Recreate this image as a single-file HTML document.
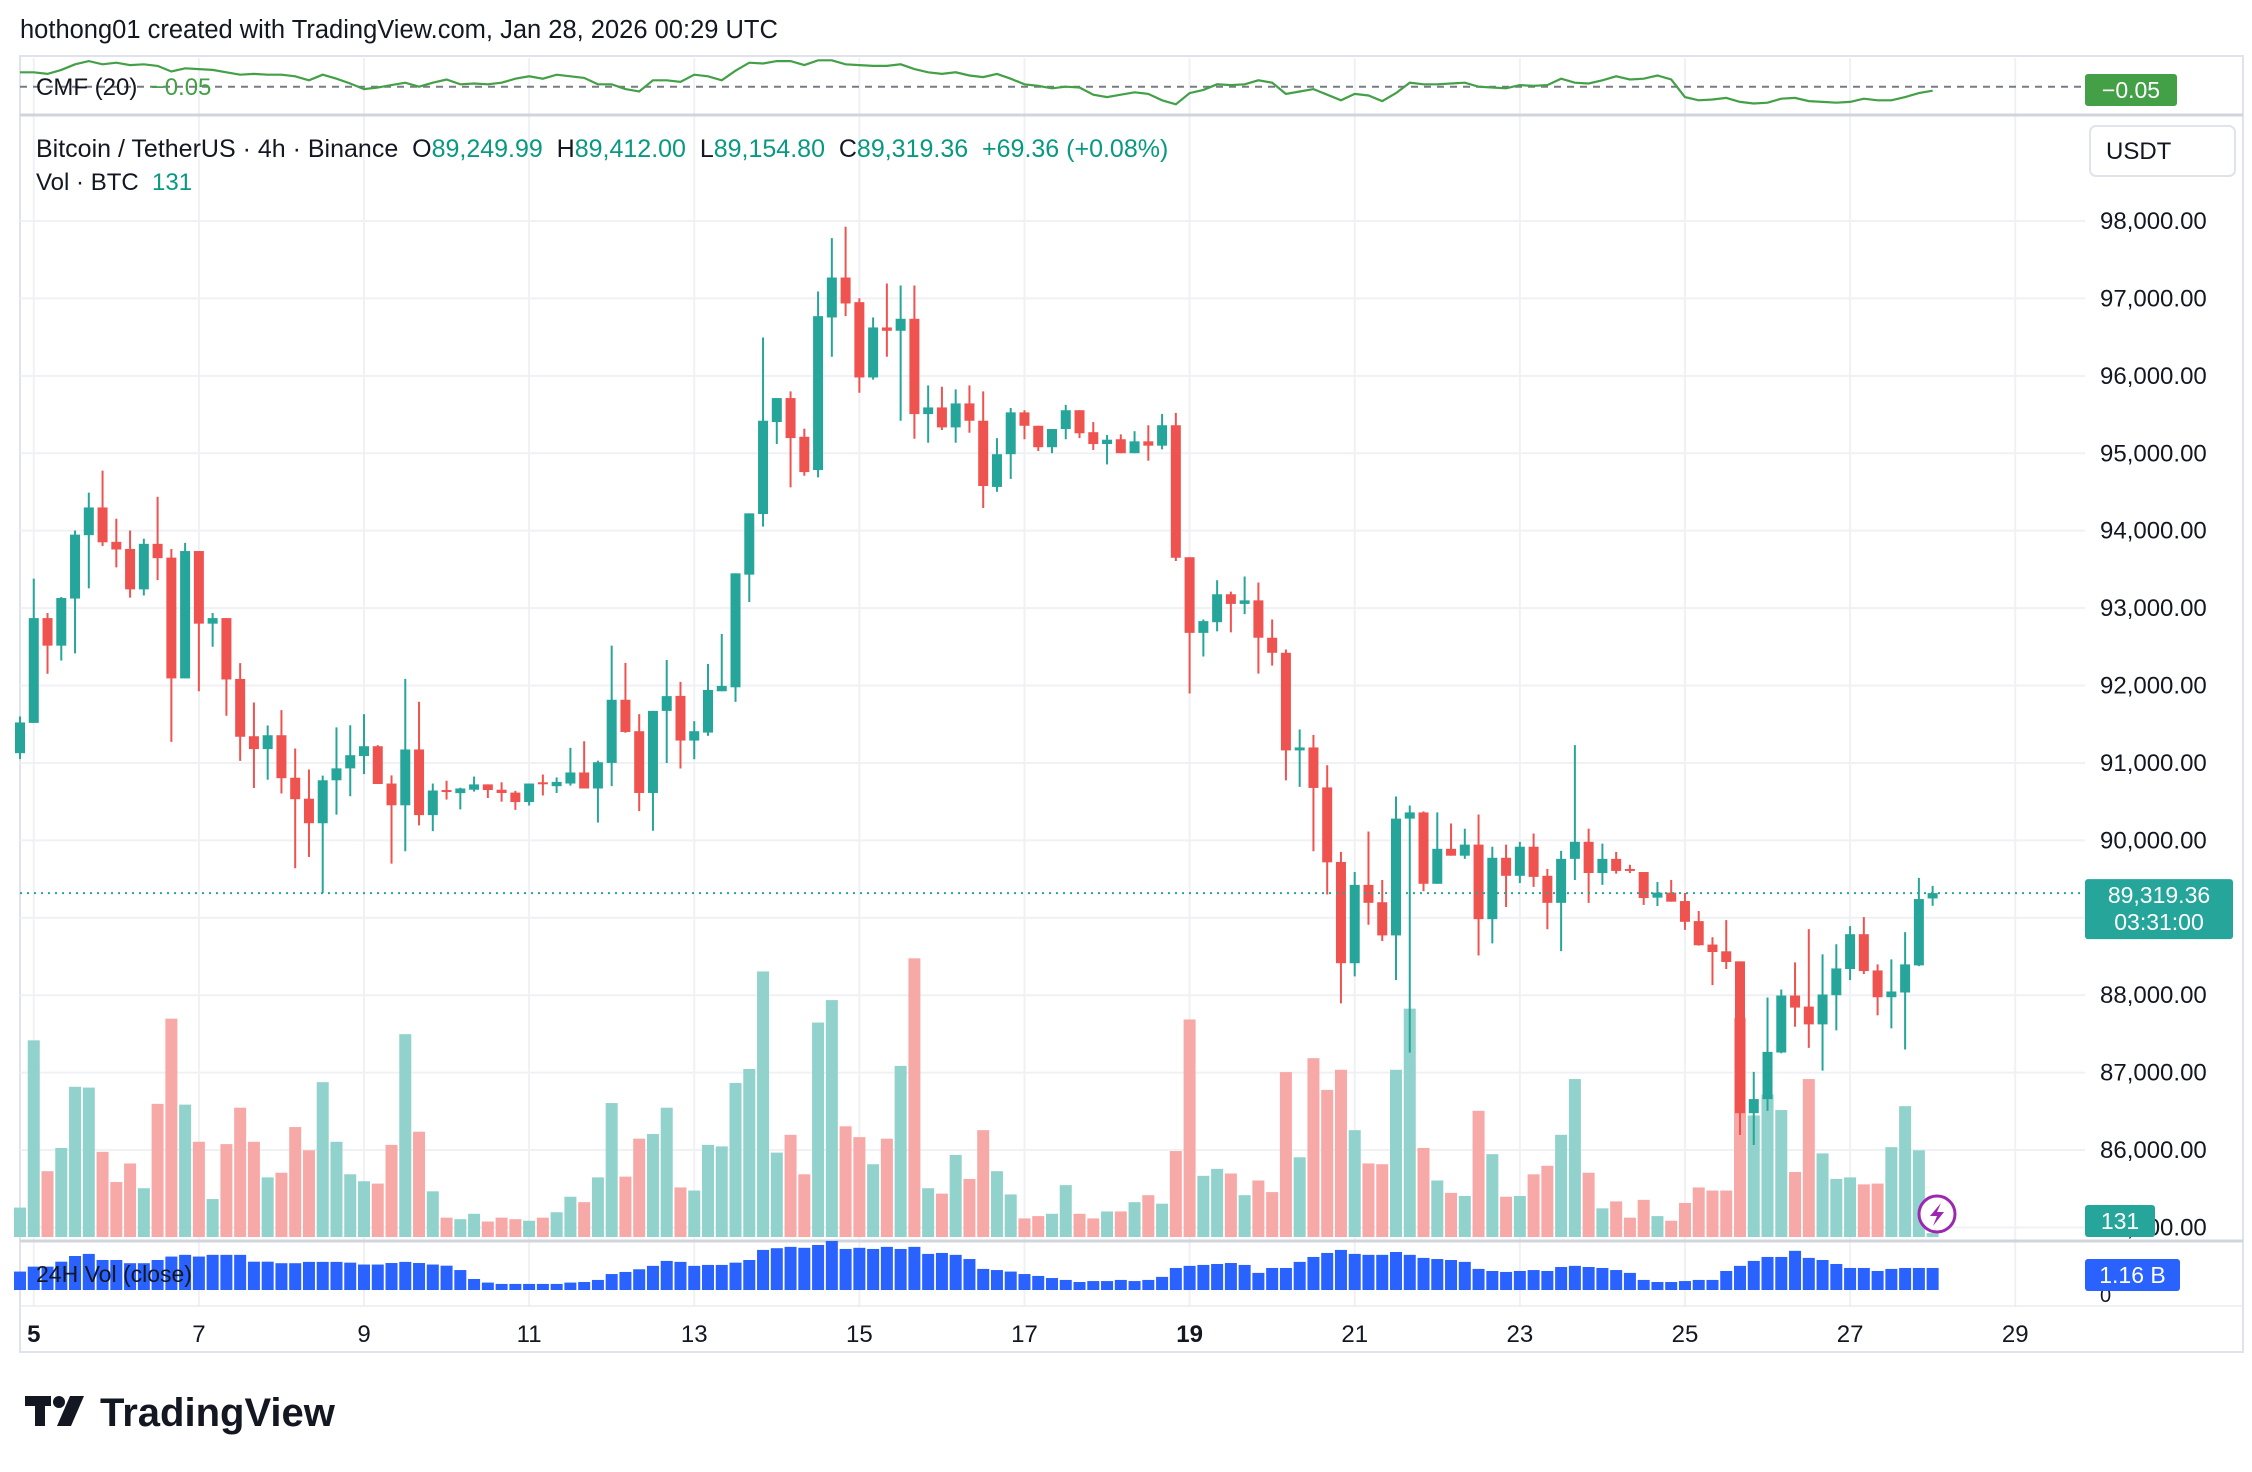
<!DOCTYPE html>
<html><head><meta charset="utf-8"><style>
html,body{margin:0;padding:0;background:#fff;width:2252px;height:1472px;overflow:hidden}
svg{display:block;font-family:"Liberation Sans",sans-serif}
text{white-space:pre}
</style></head><body>
<svg id="chart" width="2252" height="1472" viewBox="0 0 2252 1472" xmlns="http://www.w3.org/2000/svg" xml:space="preserve">
<rect x="0" y="0" width="2252" height="1472" fill="#fff"/>
<text x="20" y="38" font-size="25.5" fill="#131722">hothong01 created with TradingView.com, Jan 28, 2026 00:29 UTC</text>
<rect x="20" y="56" width="2223" height="1296" fill="none" stroke="#e0e3eb" stroke-width="2"/>
<g id="grid"></g>
<line x1="20" y1="115" x2="2243" y2="115" stroke="#d1d4dc" stroke-width="3"/>
<line x1="20" y1="1241" x2="2243" y2="1241" stroke="#d1d4dc" stroke-width="3"/>
<line x1="20" y1="1306" x2="2243" y2="1306" stroke="#e0e3eb" stroke-width="1"/>
<g id="vol"></g>
<g id="candles"></g>
<g id="cmf"></g>
<g id="v24"></g>
<g id="axes"></g>
<text x="36" y="95" font-size="24" fill="#131722">CMF (20)  <tspan fill="#43a047">−0.05</tspan></text>
<text x="36" y="157" font-size="25" fill="#131722">Bitcoin / TetherUS · 4h · Binance  O<tspan fill="#089981">89,249.99</tspan>  H<tspan fill="#089981">89,412.00</tspan>  L<tspan fill="#089981">89,154.80</tspan>  C<tspan fill="#089981">89,319.36  +69.36 (+0.08%)</tspan></text>
<text x="36" y="190" font-size="24" fill="#131722">Vol · BTC  <tspan fill="#089981">131</tspan></text>
<text x="36" y="1282" font-size="23" fill="#131722">24H Vol (close)</text>
<g><rect x="2090" y="126" width="145" height="50" rx="6" fill="#fff" stroke="#e0e3eb" stroke-width="2"/><text x="2106" y="159" font-size="24" fill="#131722">USDT</text></g>
<g><circle cx="1937" cy="1214" r="18" fill="#fff" stroke="#9c27b0" stroke-width="3"/><path d="M1941 1203 L1930 1216 L1937 1216 L1933 1226 L1944 1212 L1937 1212 Z" fill="#9c27b0"/></g>
<g>
<rect x="25" y="1396" width="26" height="10" fill="#131722"/><rect x="35" y="1396" width="10" height="30" fill="#131722"/>
<circle cx="59" cy="1402" r="6" fill="#131722"/><path d="M70 1396 L84 1396 L71 1426 L57 1426 Z" fill="#131722"/>
<text x="100" y="1426" font-size="40" font-weight="bold" fill="#131722">TradingView</text></g>
</svg>
<script>
const opens=[91126,91517,92871,92515,93123,93942,94300,93856,93764,93242,93830,93652,92092,93737,92799,92871,92085,91345,91179,91358,90809,90538,90221,90776,90930,
91089,91216,90734,90453,91174,90326,90650,90610,90654,90723,90654,90617,90495,90750,90700,90734,90877,90670,91000,91816,91410,90612,91672,
91866,91289,91392,91926,91977,93432,94215,95403,95713,95213,94783,96754,97270,96952,95979,96625,96582,96737,95506,95592,95334,95644,95420,
94565,94988,95528,95355,95078,95313,95556,95272,95119,95181,95001,95154,95098,95362,93657,92680,92818,93179,93054,93100,92617,92423,91162,91200,
90684,89721,88413,89425,89201,88772,90281,90361,89439,89891,89802,89945,88982,89775,89542,89918,89542,89193,89761,89981,89578,89761,89631,89591,
89260,89325,89216,88957,88654,88567,88437,86476,86658,87260,87996,87853,87623,88000,88338,88788,88320,87974,88035,88385,89250];
const highs=[91600,93380,92937,93143,94002,94491,94775,94154,94002,93896,94438,93764,93843,93737,92937,92871,92290,91781,91484,91682,91186,90916,90836,91460,91487,
91630,91230,90840,92086,91790,90734,90770,90680,90824,90723,90750,90640,90734,90850,90813,91195,91280,91030,92515,92293,91630,91672,92330,
92047,91539,92279,92666,93449,94224,96496,95713,95799,95317,97090,97778,97925,97003,96754,97193,97167,97167,95876,95859,95825,95876,95799,
95195,95584,95556,95355,95313,95625,95556,95403,95237,95244,95285,95362,95508,95521,93657,92853,93360,93213,93408,93331,92853,92465,91432,91363,
90970,89851,89591,90115,89488,90567,90451,90375,90361,90218,90151,90334,89918,89945,89981,90088,89631,89864,91230,90151,89958,89851,89685,89591,
89463,89489,89320,89087,88749,88970,88437,87009,87970,88074,88424,88853,88528,88658,88892,89009,88398,88463,88814,89515,89412];
const lows=[91050,91517,92151,92323,92415,93255,93800,93526,93136,93163,93361,91272,92092,91926,92501,91609,91027,90677,90783,90605,89640,89785,89320,90333,90570,
90856,90728,89700,89859,90193,90119,90527,90400,90630,90547,90500,90394,90450,90580,90612,90707,90670,90230,90700,91390,90378,90124,91000,
90928,91048,91350,91926,91788,93079,94052,95119,94559,94710,94688,96246,96771,95781,95950,96247,95420,95188,95136,95300,95136,95265,94293,
94502,94669,95181,95029,95001,95181,95195,95043,94856,95001,95001,94904,95050,93609,91897,92375,92700,92687,92922,92153,92257,90774,90691,89860,
89300,87894,88243,88910,88700,88194,87258,89345,89439,89802,89761,88512,88669,89139,89448,89399,88852,88570,89488,89193,89425,89569,89578,89166,
89152,89208,88844,88640,88130,88338,86195,86065,86506,87250,87593,87320,87026,87545,88195,88273,87740,87571,87299,88376,89155];
const closes=[91523,92871,92515,93130,93949,94300,93850,93757,93242,93830,93645,92092,93737,92799,92871,92078,91338,91179,91358,90803,90532,90221,90776,90930,91100,
91216,90728,90453,91174,90326,90644,90640,90670,90723,90650,90612,90495,90734,90734,90755,90877,90670,91009,91816,91400,90612,91672,91863,
91289,91410,91943,91995,93449,94224,95420,95713,95196,94757,96771,97270,96935,95979,96625,96582,96737,95506,95592,95334,95644,95420,94577,
94988,95528,95355,95078,95313,95556,95258,95119,95175,95001,95154,95098,95362,93650,92680,92832,93179,93054,93100,92617,92423,91162,91200,90677,
89716,88413,89425,89193,88772,90281,90361,89439,89891,89802,89945,88982,89775,89542,89918,89528,89193,89761,89981,89578,89761,89605,89605,89255,
89325,89208,88948,88645,88558,88429,86476,86658,87268,87996,87840,87623,88009,88346,88788,88312,87974,88048,88398,89242,89319];
const volumes=[0.38,2.54,0.85,1.15,1.94,1.93,1.10,0.71,0.95,0.63,1.72,2.82,1.71,1.23,0.49,1.20,1.67,1.23,0.77,0.83,1.42,1.12,2.00,1.23,0.81,
0.72,0.69,1.19,2.62,1.36,0.59,0.25,0.23,0.30,0.20,0.25,0.23,0.21,0.25,0.32,0.52,0.45,0.77,1.73,0.78,1.27,1.33,1.67,
0.64,0.60,1.19,1.17,1.99,2.17,3.43,1.09,1.32,0.81,2.77,3.06,1.43,1.29,0.94,1.27,2.21,3.60,0.63,0.56,1.06,0.75,1.38,
0.85,0.55,0.24,0.27,0.30,0.67,0.30,0.24,0.33,0.33,0.45,0.54,0.43,1.11,2.81,0.79,0.88,0.82,0.54,0.73,0.58,2.13,1.03,2.31,
1.90,2.16,1.38,0.95,0.94,2.16,2.95,1.15,0.73,0.57,0.53,1.63,1.07,0.52,0.53,0.81,0.92,1.32,2.04,0.83,0.37,0.46,0.25,0.48,
0.27,0.21,0.44,0.64,0.60,0.60,2.83,1.57,1.84,1.64,0.84,2.04,1.08,0.75,0.77,0.68,0.69,1.16,1.69,1.12,0.05];
const cmfValues=[0.18,0.18,0.16,0.21,0.28,0.32,0.28,0.30,0.27,0.28,0.26,0.19,0.23,0.22,0.21,0.18,0.15,0.16,0.15,0.15,
0.13,0.08,0.15,0.10,0.04,-0.03,-0.01,0.02,0.05,0.00,0.05,0.09,0.03,0.04,0.03,0.05,0.10,0.13,0.10,0.15,
0.13,0.11,0.03,0.03,-0.03,-0.06,0.08,0.08,0.06,0.15,0.13,0.08,0.20,0.30,0.29,0.32,0.32,0.27,0.33,0.33,
0.28,0.27,0.26,0.26,0.28,0.22,0.18,0.16,0.18,0.14,0.12,0.16,0.10,0.03,0.01,-0.02,0.00,-0.01,-0.10,-0.13,
-0.10,-0.07,-0.09,-0.17,-0.22,-0.08,-0.04,0.03,0.02,0.03,0.08,0.05,-0.09,-0.06,-0.03,-0.10,-0.17,-0.09,-0.11,-0.18,
-0.08,0.05,0.03,0.03,0.04,0.05,0.00,-0.01,-0.02,0.02,0.01,0.02,0.10,0.05,0.04,0.08,0.13,0.09,0.10,0.14,
0.09,-0.13,-0.17,-0.16,-0.14,-0.19,-0.21,-0.20,-0.15,-0.14,-0.18,-0.19,-0.20,-0.19,-0.15,-0.17,-0.17,-0.13,-0.08,-0.05];
const vol24hB=[0.97,1.23,1.23,1.49,1.79,1.90,1.58,1.58,1.41,1.41,1.58,1.76,1.85,1.76,1.85,1.85,1.85,1.49,1.49,1.41,
1.41,1.48,1.48,1.48,1.44,1.34,1.34,1.42,1.48,1.42,1.34,1.28,1.05,0.58,0.39,0.32,0.32,0.32,0.32,0.32,
0.39,0.42,0.53,0.84,0.95,1.09,1.27,1.53,1.48,1.27,1.32,1.32,1.44,1.58,2.11,2.20,2.27,2.22,2.37,2.58,
2.16,2.22,2.16,2.27,2.16,2.27,1.90,1.95,1.85,1.63,1.11,1.05,0.97,0.84,0.74,0.63,0.53,0.42,0.47,0.47,
0.53,0.47,0.53,0.69,1.16,1.27,1.32,1.37,1.42,1.32,0.90,1.16,1.16,1.48,1.74,1.95,2.11,1.90,1.85,1.85,
2.00,1.85,1.69,1.63,1.58,1.48,1.11,1.00,0.95,1.00,1.05,1.00,1.21,1.27,1.21,1.16,1.05,0.90,0.53,0.42,
0.42,0.47,0.53,0.53,1.00,1.27,1.53,1.74,1.74,2.06,1.69,1.58,1.37,1.16,1.16,1.00,1.11,1.16,1.16,1.16];
const priceTicks=[98000,97000,96000,95000,94000,93000,92000,91000,90000,89000,88000,87000,86000,85000];
const dayLabels=["5","7","9","11","13","15","17","19","21","23","25","27","29"];
const dayNumbers=[5,7,9,11,13,15,17,19,21,23,25,27,29];
const boldDays=[5,19];

const NS='http://www.w3.org/2000/svg';
const X0=20, STEP=13.76;
const xOf=i=>X0+i*STEP;
const dayX=d=>xOf(1+(d-5)*6);
const yPrice=p=>221+(98000-p)*0.07742;
const yVol=v=>1237-v*77.42;
const yCmf=v=>86.7-v*80;
const yV24=v=>1290-v*19.0;
function mk(tag,attrs,parent){const e=document.createElementNS(NS,tag);for(const k in attrs)e.setAttribute(k,attrs[k]);parent.appendChild(e);return e;}
const grid=document.getElementById('grid');
priceTicks.forEach(p=>{const l=mk('line',{x1:20,x2:2085,y1:yPrice(p),y2:yPrice(p),stroke:'#f0f1f4','stroke-width':2},grid);

});
dayNumbers.forEach(d=>{const l=mk('line',{x1:dayX(d),x2:dayX(d),y1:58,y2:1306,stroke:'#f0f1f4','stroke-width':2},grid);

});

const vg=document.getElementById('vol');
volumes.forEach((v,i)=>{const up=closes[i]>=opens[i];
const r=mk('rect',{x:xOf(i)-6,y:yVol(v),width:12,height:Math.max(1,1237-yVol(v)),fill:up?'#92d2cc':'#f7a9a7'},vg);

});

const cg=document.getElementById('candles');
opens.forEach((o,i)=>{const c=closes[i],up=c>=o,col=up?'#26a69a':'#ef5350',x=xOf(i);
const g=mk('g',{},cg);


mk('line',{x1:x,x2:x,y1:yPrice(highs[i]),y2:yPrice(lows[i]),stroke:col,'stroke-width':2},g);
const t=yPrice(Math.max(o,c)),b=yPrice(Math.min(o,c));
mk('rect',{x:x-5,y:t,width:10,height:Math.max(2,b-t),fill:col},g);});

const last=closes[closes.length-1];
const pl=mk('line',{x1:20,x2:2085,y1:yPrice(last),y2:yPrice(last),stroke:'#26a69a','stroke-width':2,'stroke-dasharray':'2 5'},cg);



const cm=document.getElementById('cmf');
const zl=mk('line',{x1:20,x2:2085,y1:yCmf(0),y2:yCmf(0),stroke:'#787b86','stroke-width':2,'stroke-dasharray':'7 6'},cm);


const cp=mk('polyline',{points:cmfValues.map((v,i)=>xOf(i)+','+yCmf(v)).join(' '),fill:'none',stroke:'#43a047','stroke-width':2.2},cm);



const vv=document.getElementById('v24');
vol24hB.forEach((v,i)=>{const r=mk('rect',{x:xOf(i)-6,y:yV24(v),width:12,height:1290-yV24(v),fill:'#2962ff'},vv);

});

const ax=document.getElementById('axes');
priceTicks.forEach(p=>{const t=mk('text',{x:2100,y:yPrice(p)+8,'font-size':24,fill:'#131722'},ax);
t.textContent=p.toLocaleString('en-US',{minimumFractionDigits:2});

});
dayLabels.forEach((s,k)=>{const d=dayNumbers[k];const t=mk('text',{x:dayX(d),y:1342,'font-size':24,'text-anchor':'middle',fill:'#131722','font-weight':boldDays.includes(d)?'bold':'normal'},ax);
t.textContent=s;

});
const z=mk('text',{x:2100,y:1302,'font-size':20,fill:'#131722'},ax);z.textContent='0';



function badge(name,x,y,w,h,fill,lines){const g=mk('g',{},ax);


mk('rect',{x:x,y:y,width:w,height:h,rx:3,fill:fill},g);
lines.forEach((s,j)=>{const t=mk('text',{x:x+w/2,y:y+24+j*27,'font-size':23,fill:'#fff','text-anchor':'middle'},g);t.textContent=s;});}
badge('cmf-value-badge',2085,74,92,32,'#43a047',['−0.05']);
badge('last-price-badge',2085,yPrice(last)-14,148,60,'#26a69a',['89,319.36','03:31:00']);
badge('volume-value-badge',2085,1205,70,32,'#26a69a',['131']);
badge('vol24h-value-badge',2085,1259,95,32,'#2962ff',['1.16 B']);
</script>
</body></html>
